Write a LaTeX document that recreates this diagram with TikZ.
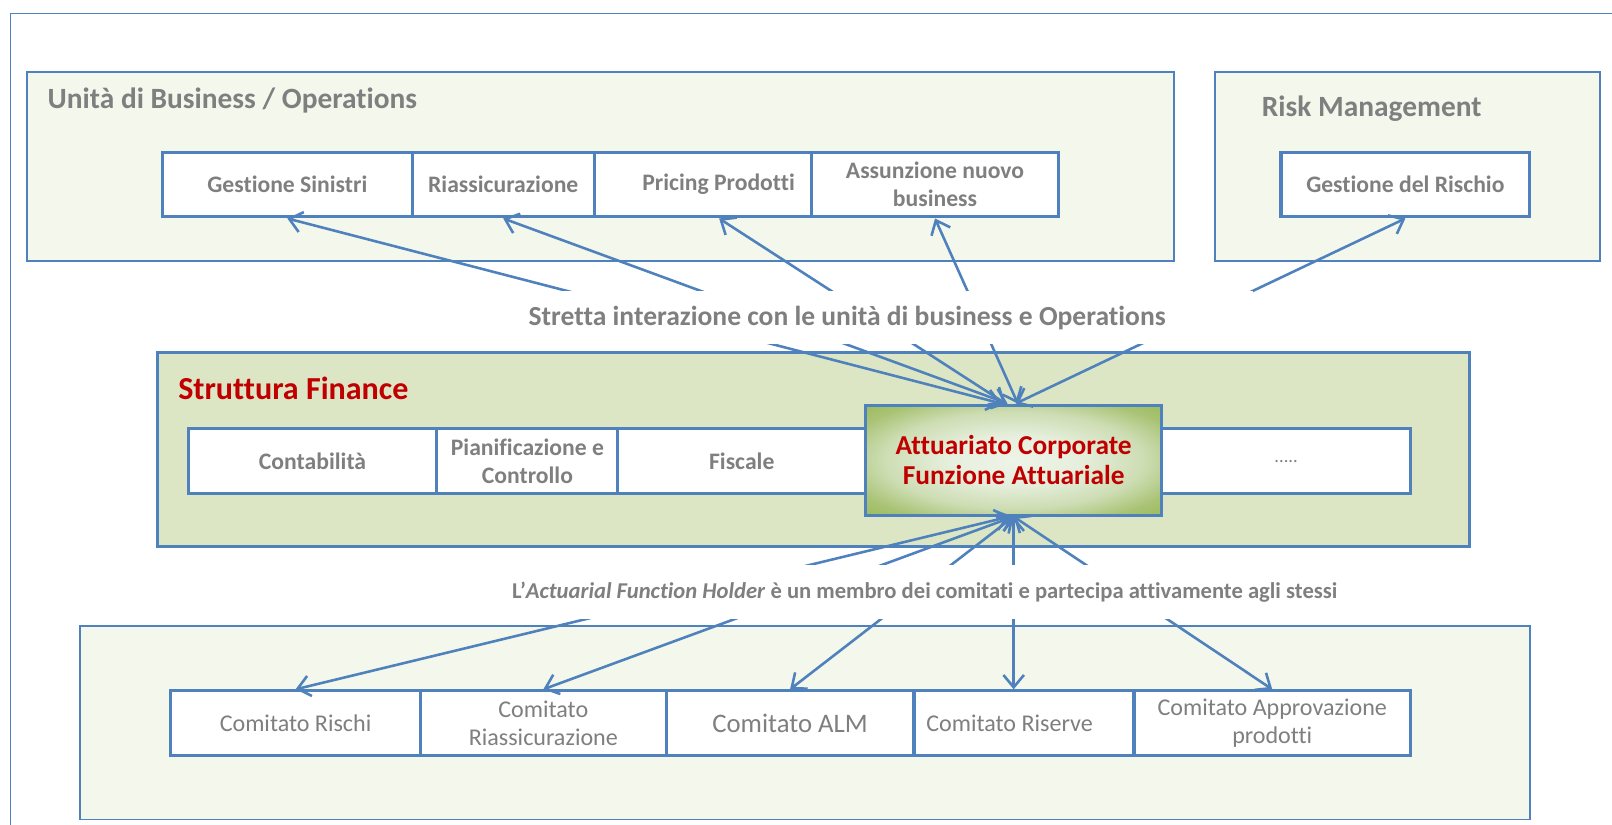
\documentclass[tikz,border=0pt]{standalone}
\usepackage{fontspec}
\setmainfont{Carlito}[Ligatures={NoCommon}]
\usetikzlibrary{arrows.meta}
\definecolor{obl}{HTML}{4F81BD}
\definecolor{tgray}{HTML}{7F7F7F}
\definecolor{dred}{HTML}{C00000}
\definecolor{paleg}{HTML}{F3F7EC}
\definecolor{fing}{HTML}{DCE6C4}
\definecolor{olive}{HTML}{9BBB59}
\definecolor{lightg}{HTML}{EBF2E3}
\definecolor{sh0}{HTML}{EEF4E8}
\definecolor{sh1}{HTML}{E6EFDD}
\definecolor{sh2}{HTML}{CDDDB3}
\definecolor{sh3}{HTML}{A9C375}
\pgfdeclareradialshading{attshade}{\pgfpoint{0bp}{0bp}}{color(0bp)=(sh0); color(11bp)=(sh1); color(22bp)=(sh2); color(30bp)=(sh3); color(36bp)=(olive); color(50bp)=(olive)}
\begin{document}
\begin{tikzpicture}[x=0.5pt,y=-0.5pt,
 container/.style={draw=obl, fill=paleg, line width=1pt},
 cell/.style={draw=obl, fill=white, line width=1.5pt, minimum height=31.5pt, inner sep=0pt, align=center, text=tgray, font=\bfseries\fontsize{11.5}{13.5}\selectfont},
 comcell/.style={cell, font=\fontsize{11.7}{14}\selectfont},
 link/.style={draw=obl, line width=1.25pt, {Straight Barb[length=6pt,width=10pt]}-{Straight Barb[length=6pt,width=10pt]}},
 band/.style={fill=white, inner sep=0pt, minimum height=26pt, text=tgray, font=\bfseries\fontsize{13.4}{15}\selectfont},
 title/.style={anchor=west, inner sep=0pt, font=\bfseries\fontsize{14.3}{16}\selectfont, text=tgray}
]
\useasboundingbox (0,0) rectangle (1568,802);
\draw[obl, line width=0.75pt] (10,802) -- (10,13) -- (1568,13);
% containers
\draw[container] (26,70) rectangle (1142,254);
\draw[container] (1182,70) rectangle (1556,254);
\draw[container, fill=fing, line width=1.5pt] (153,343) rectangle (1429,532);
\draw[container, line width=0.75pt] (78,609) rectangle (1488,797);
% titles
\node[title] (tbus) at (46,98) {Unità di Business / Operations};
\node[title] (trisk) at (1227,106) {Risk Management};
\node[title, text=dred, font=\bfseries\fontsize{15.6}{17}\selectfont] (tfin) at (173,378) {Struttura Finance};
% business row
\node[cell, minimum width=121.5pt] (gs) at (279.5,179.5) {Gestione Sinistri};
\node[cell, minimum width=88.5pt] (ria) at (489.5,179.5) {Riassicurazione};
\node[cell, minimum width=105.5pt] (pri) at (683.5,179.5) {\hspace*{15.5pt}Pricing Prodotti};
\node[cell, minimum width=120.5pt] (ass) at (909.5,179.5) {Assunzione nuovo\\business};
\node[cell, minimum width=121pt] (gr) at (1367,179.5) {Gestione del Rischio};
% finance row
\node[cell, minimum width=121pt] (con) at (304,448.5) {Contabilità};
\node[cell, minimum width=88pt] (pia) at (513,448.5) {Pianificazione e\\Controllo};
\node[cell, minimum width=120.5pt] (fis) at (721.5,448.5) {Fiscale};
\node[cell, minimum width=121pt, font=\fontsize{9}{10}\selectfont] (dots) at (1251,448.5) {.....};
\node[draw=obl, line width=1.5pt, minimum width=144pt, minimum height=53.5pt, inner sep=0pt,
  shading=attshade, align=center, text=dred,
  font=\bfseries\fontsize{13.3}{14.5}\selectfont] (att) at (986,447.5) {Attuariato Corporate\\Funzione Attuariale};
% committee row
\node[comcell, minimum width=121.5pt] (cr) at (287.5,703.5) {Comitato Rischi};
\node[comcell, minimum width=119.5pt] (cria) at (528.5,703.5) {Comitato\\Riassicurazione};
\node[comcell, minimum width=120.5pt, font=\fontsize{13}{14}\selectfont] (alm) at (768.5,703.5) {Comitato ALM};
\node[comcell, minimum width=106.5pt] (ris) at (996,703.5) {Comitato Riserve\hspace*{14pt}};
\node[comcell, minimum width=134.5pt] (app) at (1237.5,703.5) {Comitato Approvazione\\prodotti};
% links
\draw[link] ([xshift=-6pt]att.north) -- (gs.south);
\draw[link] ([xshift=-3pt]att.north) -- (ria.south);
\draw[link] ([xshift=-4pt]att.north) -- ([xshift=8pt]pri.south);
\draw[link] ([xshift=2pt]att.north) -- (ass.south);
\draw[link] ([xshift=1pt]att.north) -- (gr.south);
\draw[link] ([xshift=-2pt]att.south) -- (cr.north);
\draw[link] (att.south) -- (cria.north);
\draw[link] (att.south) -- (alm.north);
\draw[link] (att.south) -- (att.south |- ris.north);
\draw[link] (att.south) -- (app.north);
% band labels
\node[band, minimum width=395pt] (lab1) at (824,309) {Stretta interazione con le unità di business e Operations};
\node[band, minimum width=420pt, font=\bfseries\fontsize{11}{13}\selectfont] (lab2) at (899.5,576) {L’\textit{Actuarial Function Holder} è un membro dei comitati e partecipa attivamente agli stessi};
\end{tikzpicture}
\end{document}
